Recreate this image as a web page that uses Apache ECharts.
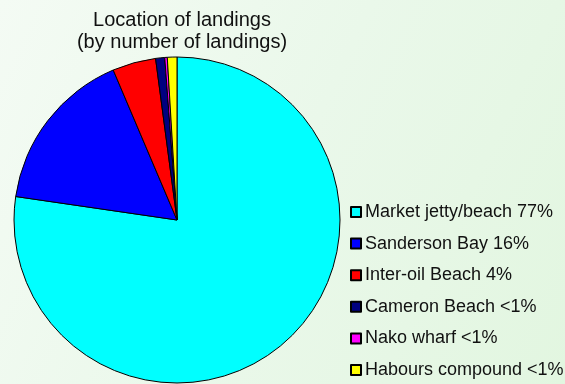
<!DOCTYPE html>
<html>
<head>
<meta charset="utf-8">
<script src="https://cdn.jsdelivr.net/npm/echarts@6/dist/echarts.min.js"></script>
<style>
  html, body { margin: 0; padding: 0; }
  #chart {
    width: 565px; height: 384px;
    background: linear-gradient(115deg, #f4fbf4 0%, #eaf8ea 50%, #e2f6e0 100%);
  }
</style>
</head>
<body>
<div id="chart"></div>
<script>
// Landing locations, share of landings (%)
const locations = ['Market jetty/beach', 'Sanderson Bay', 'Inter-oil Beach', 'Cameron Beach', 'Nako wharf', 'Habours compound'];
const shares = [77.3, 16.3, 4.3, 0.9, 0.25, 0.95];
const shareLabels = ['77%', '16%', '4%', '<1%', '<1%', '<1%'];
const sliceColors = ['#00ffff', '#0000ff', '#ff0000', '#000080', '#ff00ff', '#ffff00'];

const chart = echarts.init(document.getElementById('chart'), null, { renderer: 'canvas' });

const data = locations.map((name, i) => ({
  name: name + ' ' + shareLabels[i],
  value: shares[i],
  itemStyle: { color: sliceColors[i] }
}));

const font = 'Liberation Sans, Arial, sans-serif';

chart.setOption({
  animation: false,
  title: {
    text: 'Location of landings\n(by number of landings)',
    left: 177,
    top: 4,
    textAlign: 'center',
    textStyle: {
      fontFamily: font,
      fontSize: 20,
      fontWeight: 'normal',
      color: '#111',
      lineHeight: 22
    }
  },
  legend: {
    orient: 'vertical',
    left: 350,
    top: 203,
    width: 230,
    height: 200,
    padding: 0,
    itemWidth: 10,
    itemHeight: 10,
    itemGap: 13.6,
    icon: 'rect',
    textStyle: {
      fontFamily: font,
      fontSize: 18,
      color: '#111',
      lineHeight: 18,
      padding: [0, 0, 0, -1]
    },
    data: data.map(d => d.name)
  },
  series: [{
    type: 'pie',
    center: [177, 220],
    radius: 163,
    startAngle: 90,
    clockwise: true,
    minAngle: 0,
    label: { show: false },
    labelLine: { show: false },
    emphasis: { disabled: true },
    itemStyle: { borderColor: '#000', borderWidth: 1 },
    data: data
  }]
});
</script>
</body>
</html>
